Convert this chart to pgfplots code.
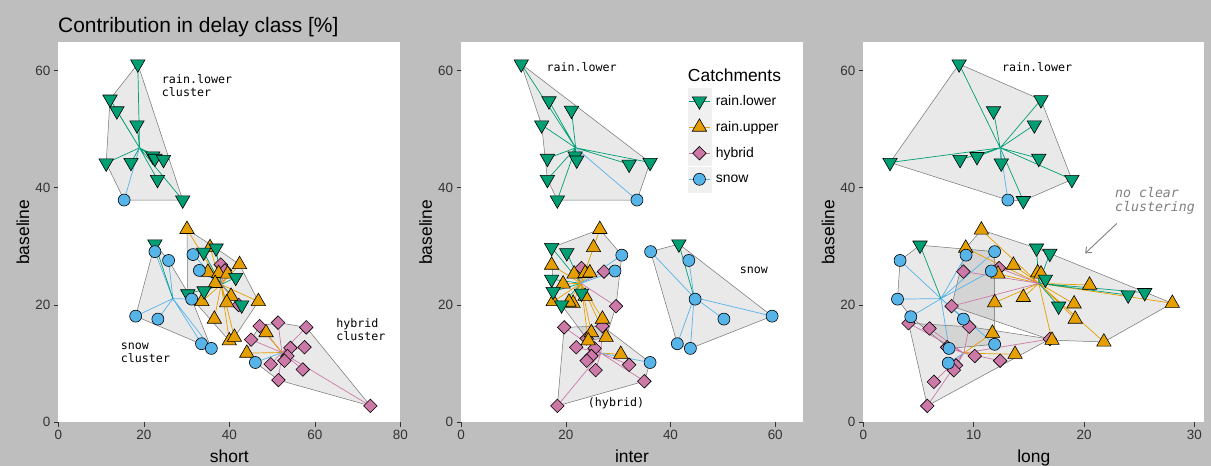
\documentclass[border=0pt]{standalone}
\usepackage{pgfplots}
\pgfplotsset{compat=1.18}
\usepackage{fontspec}
\setmainfont{Liberation Sans}
\newfontfamily\monofont{DejaVu Sans Mono}
\usetikzlibrary{arrows.meta}
\definecolor{cRL}{HTML}{009E73}
\definecolor{cRU}{HTML}{E69F00}
\definecolor{cH}{HTML}{CC79A7}
\definecolor{cS}{HTML}{56B4E9}
\definecolor{bg}{HTML}{BEBEBE}
\tikzset{ann/.style={anchor=base west, align=left, inner sep=0pt, font=\monofont\fontsize{11.7}{13}\selectfont}}
\pgfplotsset{
 panel/.style={scale only axis, height=380bp, ymin=0, ymax=64.8, ytick={0,20,40,60},
  anchor=south west,
  axis background/.style={fill=white}, axis line style={draw=none},
  tick align=outside, xtick pos=left, ytick pos=left, major tick length=4.5bp,
  major tick style={draw=black!80, line width=0.5bp},
  tick label style={font=\fontsize{13.5}{15}\selectfont, text=black!80},
  /pgf/number format/assume math mode=true,
  ylabel={baseline},
  every axis y label/.style={at={(axis description cs:-0.085,0.5)}, rotate=90, anchor=base, font=\fontsize{17.5}{20}\selectfont},
  every axis x label/.style={at={(axis description cs:0.5,0)}, anchor=base, yshift=-40bp, font=\fontsize{17.5}{20}\selectfont},
 },
 hull/.style={forget plot, no markers, draw=black!55, fill=black, fill opacity=0.085, line width=0.5bp},
 spk/.style={forget plot, no markers, line width=0.7bp},
 mRL/.style={forget plot, only marks, mark=triangle*, mark size=8.3bp, mark options={rotate=180, fill=cRL, draw=black, line width=0.6bp}},
 mRU/.style={forget plot, only marks, mark=triangle*, mark size=8.3bp, mark options={fill=cRU, draw=black, line width=0.6bp}},
 mH/.style={forget plot, only marks, mark=square*, mark size=4.8bp, mark options={rotate=45, fill=cH, draw=black, line width=0.6bp}},
 mS/.style={forget plot, only marks, mark=*, mark size=6bp, mark options={fill=cS, draw=black, line width=0.6bp}},
}
\begin{document}
\begin{tikzpicture}
\fill[bg] (0,0) rectangle (1211bp,466bp);
\node[anchor=base west, inner sep=0pt, font=\fontsize{21}{24}\selectfont] at (58bp,433bp) {Contribution in delay class [\%]};

% ---------------- Panel 1: short ----------------
\begin{axis}[panel, at={(58.3bp,43.7bp)}, width=342bp, xmin=0, xmax=80, xtick={0,20,40,60,80}, xlabel={short}]
\addplot[hull] coordinates {(18.6,61.1)(29.1,37.9)(15.4,37.9)(11.2,44.2)(12.1,55.1)} -- cycle;
\addplot[hull] coordinates {(22.6,30.4)(25.8,27.6)(31.2,21.0)(35.8,12.6)(18.1,18.1)} -- cycle;
\addplot[hull] coordinates {(30.1,32.9)(36.9,29.7)(42.4,26.9)(46.8,20.6)(41.2,14.5)(40.0,13.9)(30.3,21.9)} -- cycle;
\addplot[hull] coordinates {(47.1,16.4)(51.4,17.0)(58.0,16.2)(73.0,2.8)(51.5,7.2)(46.1,10.2)(44.1,11.8)(45.1,14.1)} -- cycle;
% spokes
\addplot[spk, cRL] coordinates {(19.0,46.8)(18.6,61.1)(19.0,46.8)(12.1,55.1)(19.0,46.8)(13.7,53.1)(19.0,46.8)(18.4,50.7)(19.0,46.8)(11.2,44.2)(19.0,46.8)(17.0,44.3)(19.0,46.8)(22.1,45.4)(19.0,46.8)(22.6,45.0)(19.0,46.8)(24.6,44.8)(19.0,46.8)(23.2,41.4)(19.0,46.8)(29.1,37.9)};
\addplot[spk, cS] coordinates {(19.0,46.8)(15.4,37.9)};
\addplot[spk, cS] coordinates {(26.8,21.1)(22.6,29.1)(26.8,21.1)(25.8,27.6)(26.8,21.1)(18.1,18.1)(26.8,21.1)(23.3,17.6)(26.8,21.1)(33.5,13.4)(26.8,21.1)(35.8,12.6)(26.8,21.1)(31.2,21.0)};
\addplot[spk, cRL] coordinates {(26.8,21.1)(22.6,30.4)};
\addplot[spk, cRU] coordinates {(38.1,23.5)(30.1,32.9)(38.1,23.5)(35.5,29.8)(38.1,23.5)(42.4,26.9)(38.1,23.5)(35.0,25.6)(38.1,23.5)(37.5,25.4)(38.1,23.5)(39.6,25.3)(38.1,23.5)(36.7,23.7)(38.1,23.5)(33.6,20.6)(38.1,23.5)(40.4,21.5)(38.1,23.5)(39.4,20.4)(38.1,23.5)(46.8,20.6)(38.1,23.5)(36.5,17.6)(38.1,23.5)(40.0,13.9)(38.1,23.5)(41.2,14.5)};
\addplot[spk, cRL] coordinates {(38.1,23.5)(34.0,29.0)(38.1,23.5)(36.9,29.7)(38.1,23.5)(41.5,24.7)(38.1,23.5)(42.9,20.0)(38.1,23.5)(30.3,21.9)(38.1,23.5)(34.1,22.4)};
\addplot[spk, cS] coordinates {(38.1,23.5)(31.5,28.6)(38.1,23.5)(33.0,25.9)};
\addplot[spk, cH] coordinates {(38.1,23.5)(38.0,26.9)(38.1,23.5)(39.0,25.9)(38.1,23.5)(42.2,20.0)};
\addplot[spk, cH] coordinates {(52.3,11.9)(47.1,16.4)(52.3,11.9)(51.4,17.0)(52.3,11.9)(58.0,16.2)(52.3,11.9)(45.1,14.1)(52.3,11.9)(54.3,12.7)(52.3,11.9)(57.6,12.8)(52.3,11.9)(53.6,11.3)(52.3,11.9)(52.9,10.5)(52.3,11.9)(49.7,9.9)(52.3,11.9)(57.2,9.0)(52.3,11.9)(51.5,7.2)(52.3,11.9)(73.0,2.8)};
\addplot[spk, cRU] coordinates {(52.3,11.9)(48.6,15.3)(52.3,11.9)(44.1,11.8)};
\addplot[spk, cS] coordinates {(52.3,11.9)(46.1,10.2)};
% points
\addplot[mH] coordinates {(38.0,26.9)(39.0,25.9)(42.2,20.0)(47.1,16.4)(51.4,17.0)(58.0,16.2)(45.1,14.1)(54.3,12.7)(57.6,12.8)(53.6,11.3)(52.9,10.5)(49.7,9.9)(57.2,9.0)(51.5,7.2)(73.0,2.8)};
\addplot[mRU] coordinates {(30.1,32.9)(35.5,29.8)(42.4,26.9)(35.0,25.6)(37.5,25.4)(39.6,25.3)(36.7,23.7)(33.6,20.6)(40.4,21.5)(39.4,20.4)(46.8,20.6)(36.5,17.6)(40.0,13.9)(41.2,14.5)(48.6,15.3)(44.1,11.8)};
\addplot[mRL] coordinates {(18.6,61.1)(12.1,55.1)(13.7,53.1)(18.4,50.7)(11.2,44.2)(17.0,44.3)(22.1,45.4)(22.6,45.0)(24.6,44.8)(23.2,41.4)(29.1,37.9)(22.6,30.4)(34.0,29.0)(36.9,29.7)(41.5,24.7)(42.9,20.0)(30.3,21.9)(34.1,22.4)};
\addplot[mS] coordinates {(15.4,37.9)(22.6,29.1)(25.8,27.6)(18.1,18.1)(23.3,17.6)(33.5,13.4)(35.8,12.6)(31.2,21.0)(31.5,28.6)(33.0,25.9)(46.1,10.2)};
\node[ann] at (axis cs:24.2,55.5) {rain.lower\\cluster};
\node[ann] at (axis cs:14.6,10.2) {snow\\cluster};
\node[ann] at (axis cs:65.0,13.9) {hybrid\\cluster};
\end{axis}

% ---------------- Panel 2: inter ----------------
\begin{axis}[panel, at={(461bp,43.7bp)}, width=342bp, xmin=0, xmax=65.3, xtick={0,20,40,60}, xlabel={inter},
 legend style={at={(axis description cs:0.663,0.879)}, anchor=north west, draw=none, fill=none, inner sep=0pt, outer sep=0pt, row sep=0.7bp, font=\fontsize{14}{16}\selectfont, nodes={inner xsep=4.7bp, inner ysep=0pt}, cells={anchor=west}},
 legend cell align=left]
\addplot[hull] coordinates {(11.5,61.1)(36.1,44.3)(33.6,37.9)(18.4,37.9)(16.5,41.4)(15.4,50.7)} -- cycle;
\addplot[hull] coordinates {(17.3,29.8)(26.5,32.9)(30.7,28.5)(29.6,19.8)(27.7,14.5)(24.3,13.9)(19.2,20.0)(17.6,20.6)} -- cycle;
\addplot[hull] coordinates {(19.7,16.2)(27.0,16.4)(36.1,10.2)(35.0,7.0)(18.4,2.8)} -- cycle;
\addplot[hull] coordinates {(36.2,29.1)(41.6,30.4)(59.4,18.1)(43.8,12.6)(41.3,13.4)} -- cycle;
% spokes
\addplot[spk, cRL] coordinates {(21.9,46.8)(11.5,61.1)(21.9,46.8)(16.8,54.8)(21.9,46.8)(21.1,53.2)(21.9,46.8)(15.4,50.7)(21.9,46.8)(16.5,45.0)(21.9,46.8)(21.8,45.4)(21.9,46.8)(22.1,44.7)(21.9,46.8)(32.1,44.0)(21.9,46.8)(36.1,44.3)(21.9,46.8)(16.5,41.4)(21.9,46.8)(18.4,37.9)};
\addplot[spk, cS] coordinates {(21.9,46.8)(33.6,37.9)};
\addplot[spk, cRL] coordinates {(22.9,23.7)(17.3,29.8)(22.9,23.7)(20.2,28.9)(22.9,23.7)(17.3,24.4)(22.9,23.7)(17.6,22.3)(22.9,23.7)(23.0,22.0)(22.9,23.7)(19.2,20.0)};
\addplot[spk, cRU] coordinates {(22.9,23.7)(26.5,32.9)(22.9,23.7)(25.3,29.8)(22.9,23.7)(17.3,26.8)(22.9,23.7)(21.6,25.3)(22.9,23.7)(23.7,25.4)(22.9,23.7)(24.6,25.5)(22.9,23.7)(19.5,23.6)(22.9,23.7)(23.7,21.5)(22.9,23.7)(17.6,20.6)(22.9,23.7)(21.4,20.3)(22.9,23.7)(20.6,20.5)(22.9,23.7)(27.0,17.6)(22.9,23.7)(24.9,15.3)(22.9,23.7)(24.3,13.9)(22.9,23.7)(27.7,14.5)};
\addplot[spk, cH] coordinates {(22.9,23.7)(23.0,26.3)(22.9,23.7)(27.3,25.7)(22.9,23.7)(29.6,19.8)};
\addplot[spk, cS] coordinates {(22.9,23.7)(30.7,28.5)(22.9,23.7)(29.4,25.8)};
\addplot[spk, cH] coordinates {(26.7,11.8)(27.0,16.4)(26.7,11.8)(19.7,16.2)(26.7,11.8)(24.0,14.3)(26.7,11.8)(22.0,12.8)(26.7,11.8)(25.5,12.6)(26.7,11.8)(24.9,11.3)(26.7,11.8)(24.0,10.5)(26.7,11.8)(32.1,9.8)(26.7,11.8)(25.7,8.9)(26.7,11.8)(35.0,7.0)(26.7,11.8)(18.4,2.8)};
\addplot[spk, cRU] coordinates {(26.7,11.8)(30.5,11.6)};
\addplot[spk, cS] coordinates {(26.7,11.8)(36.1,10.2)};
\addplot[spk, cS] coordinates {(44.5,21.3)(36.2,29.1)(44.5,21.3)(43.5,27.6)(44.5,21.3)(44.7,21.0)(44.5,21.3)(50.2,17.6)(44.5,21.3)(59.4,18.1)(44.5,21.3)(41.3,13.4)(44.5,21.3)(43.8,12.6)};
\addplot[spk, cRL] coordinates {(44.5,21.3)(41.6,30.4)};
% points
\addplot[mH] coordinates {(23.0,26.3)(27.3,25.7)(29.6,19.8)(27.0,16.4)(19.7,16.2)(24.0,14.3)(22.0,12.8)(25.5,12.6)(24.9,11.3)(24.0,10.5)(32.1,9.8)(25.7,8.9)(35.0,7.0)(18.4,2.8)};
\addplot[mRU] coordinates {(26.5,32.9)(25.3,29.8)(17.3,26.8)(21.6,25.3)(23.7,25.4)(24.6,25.5)(19.5,23.6)(23.7,21.5)(17.6,20.6)(21.4,20.3)(20.6,20.5)(27.0,17.6)(24.9,15.3)(24.3,13.9)(27.7,14.5)(30.5,11.6)};
\addplot[mRL] coordinates {(11.5,61.1)(16.8,54.8)(21.1,53.2)(15.4,50.7)(16.5,45.0)(21.8,45.4)(22.1,44.7)(32.1,44.0)(36.1,44.3)(16.5,41.4)(18.4,37.9)(17.3,29.8)(20.2,28.9)(17.3,24.4)(17.6,22.3)(23.0,22.0)(19.2,20.0)(41.6,30.4)};
\addplot[mS] coordinates {(33.6,37.9)(30.7,28.5)(29.4,25.8)(36.1,10.2)(36.2,29.1)(43.5,27.6)(44.7,21.0)(50.2,17.6)(59.4,18.1)(41.3,13.4)(43.8,12.6)};
\node[ann] at (axis cs:16.3,59.8) {rain.lower};
\node[ann] at (axis cs:53.2,25.3) {snow};
\node[ann] at (axis cs:24.2,2.7) {(hybrid)};
\node[anchor=base west, inner sep=0pt, font=\fontsize{17.5}{20}\selectfont] at (axis cs:43.3,58.1) {Catchments};
% legend
\addlegendimage{legend image code/.code={
 \fill[black!6] (0bp,-12.5bp) rectangle (23bp,12.5bp);
 \draw[cRL, line width=0.7bp] (1bp,0bp) -- (22bp,0bp);
 \draw[black, fill=cRL, line width=0.6bp] plot[mark=triangle*, mark size=8.3bp, mark options={rotate=180}] coordinates {(11.5bp,0bp)};}}
\addlegendentry{rain.lower}
\addlegendimage{legend image code/.code={
 \fill[black!6] (0bp,-12.5bp) rectangle (23bp,12.5bp);
 \draw[cRU, line width=0.7bp] (1bp,0bp) -- (22bp,0bp);
 \draw[black, fill=cRU, line width=0.6bp] plot[mark=triangle*, mark size=8.3bp] coordinates {(11.5bp,0bp)};}}
\addlegendentry{rain.upper}
\addlegendimage{legend image code/.code={
 \fill[black!6] (0bp,-12.5bp) rectangle (23bp,12.5bp);
 \draw[cH, line width=0.7bp] (1bp,0bp) -- (22bp,0bp);
 \draw[black, fill=cH, line width=0.6bp] plot[mark=square*, mark size=4.8bp, mark options={rotate=45}] coordinates {(11.5bp,0bp)};}}
\addlegendentry{hybrid}
\addlegendimage{legend image code/.code={
 \fill[black!6] (0bp,-12.5bp) rectangle (23bp,12.5bp);
 \draw[cS, line width=0.7bp] (1bp,0bp) -- (22bp,0bp);
 \draw[black, fill=cS, line width=0.6bp] plot[mark=*, mark size=6bp] coordinates {(11.5bp,0bp)};}}
\addlegendentry{snow}
\end{axis}

% ---------------- Panel 3: long ----------------
\begin{axis}[panel, at={(863.3bp,43.7bp)}, width=341bp, xmin=0, xmax=30.9, xtick={0,10,20,30}, xlabel={long}]
\addplot[hull] coordinates {(8.68,61.1)(16.1,55.0)(18.9,41.4)(14.5,37.8)(13.1,37.9)(2.42,44.3)} -- cycle;
\addplot[hull] coordinates {(5.14,30.2)(11.9,29.1)(11.9,13.3)(7.77,12.6)(4.3,18.0)(3.1,21.0)(3.33,27.6)} -- cycle;
\addplot[hull] coordinates {(10.7,32.8)(15.7,29.7)(16.9,28.8)(28.0,20.3)(21.8,13.7)(17.1,14.0)(8.0,19.8)(9.28,29.7)} -- cycle;
\addplot[hull] coordinates {(4.1,16.9)(9.6,16.3)(16.9,14.2)(5.8,2.8)} -- cycle;
% spokes
\addplot[spk, cRL] coordinates {(12.4,46.8)(8.68,61.1)(12.4,46.8)(16.1,55.0)(12.4,46.8)(11.8,53.1)(12.4,46.8)(15.5,50.7)(12.4,46.8)(2.42,44.3)(12.4,46.8)(8.77,44.8)(12.4,46.8)(10.3,45.3)(12.4,46.8)(12.5,44.2)(12.4,46.8)(15.9,45.0)(12.4,46.8)(18.9,41.4)(12.4,46.8)(14.5,37.8)};
\addplot[spk, cS] coordinates {(12.4,46.8)(13.1,37.9)};
\addplot[spk, cS] coordinates {(7.04,21.1)(3.33,27.6)(7.04,21.1)(3.1,21.0)(7.04,21.1)(4.3,18.0)(7.04,21.1)(9.07,17.6)(7.04,21.1)(9.31,28.5)(7.04,21.1)(11.9,29.1)(7.04,21.1)(11.6,25.8)(7.04,21.1)(11.9,13.3)(7.04,21.1)(7.77,12.6)};
\addplot[spk, cRL] coordinates {(7.04,21.1)(5.14,30.2)};
\addplot[spk, cRU] coordinates {(15.9,23.7)(10.7,32.8)(15.9,23.7)(9.28,29.7)(15.9,23.7)(12.2,25.3)(15.9,23.7)(13.6,26.8)(15.9,23.7)(15.8,25.5)(15.9,23.7)(16.1,25.3)(15.9,23.7)(20.5,23.4)(15.9,23.7)(28.0,20.3)(15.9,23.7)(14.5,21.3)(15.9,23.7)(11.9,20.4)(15.9,23.7)(19.1,20.2)(15.9,23.7)(19.2,17.6)(15.9,23.7)(21.8,13.7)(15.9,23.7)(17.1,14.0)};
\addplot[spk, cRL] coordinates {(15.9,23.7)(15.7,29.7)(15.9,23.7)(16.9,28.8)(15.9,23.7)(16.5,24.4)(15.9,23.7)(24.0,21.7)(15.9,23.7)(25.5,22.1)(15.9,23.7)(17.7,19.8)};
\addplot[spk, cH] coordinates {(15.9,23.7)(9.07,25.7)(15.9,23.7)(12.3,26.3)(15.9,23.7)(8.0,19.8)};
\addplot[spk, cH] coordinates {(9.1,11.8)(4.1,16.9)(9.1,11.8)(9.6,16.3)(9.1,11.8)(6.0,16.0)(9.1,11.8)(7.6,12.8)(9.1,11.8)(10.1,11.3)(9.1,11.8)(12.4,10.5)(9.1,11.8)(8.4,9.7)(9.1,11.8)(8.2,8.9)(9.1,11.8)(6.4,6.9)(9.1,11.8)(5.8,2.8)(9.1,11.8)(16.9,14.2)};
\addplot[spk, cRU] coordinates {(9.1,11.8)(11.7,15.2)(9.1,11.8)(13.75,11.6)};
\addplot[spk, cS] coordinates {(9.1,11.8)(7.7,10.1)};
% points
\addplot[mH] coordinates {(9.07,25.7)(12.3,26.3)(8.0,19.8)(4.1,16.9)(9.6,16.3)(6.0,16.0)(16.9,14.2)(7.6,12.8)(10.1,11.3)(12.4,10.5)(8.4,9.7)(8.2,8.9)(6.4,6.9)(5.8,2.8)};
\addplot[mRU] coordinates {(10.7,32.8)(9.28,29.7)(12.2,25.3)(13.6,26.8)(15.8,25.5)(16.1,25.3)(20.5,23.4)(28.0,20.3)(14.5,21.3)(11.9,20.4)(19.1,20.2)(19.2,17.6)(21.8,13.7)(11.7,15.2)(17.1,14.0)(13.75,11.6)};
\addplot[mRL] coordinates {(8.68,61.1)(16.1,55.0)(11.8,53.1)(15.5,50.7)(2.42,44.3)(8.77,44.8)(10.3,45.3)(12.5,44.2)(15.9,45.0)(18.9,41.4)(14.5,37.8)(5.14,30.2)(15.7,29.7)(16.9,28.8)(16.5,24.4)(24.0,21.7)(25.5,22.1)(17.7,19.8)};
\addplot[mS] coordinates {(13.1,37.9)(9.31,28.5)(11.9,29.1)(3.33,27.6)(11.6,25.8)(3.1,21.0)(4.3,18.0)(9.07,17.6)(7.77,12.6)(11.9,13.3)(7.7,10.1)};
\node[ann] at (axis cs:12.55,59.8) {rain.lower};
\node[anchor=base west, align=left, inner sep=0pt, font=\monofont\itshape\fontsize{13.3}{14}\selectfont, text=black!50] at (axis cs:22.8,35.9) {no clear\\clustering};
\draw[black!50, line width=0.9bp, -{Straight Barb[length=5bp,width=8bp]}] (axis cs:22.97,33.9) -- (axis cs:20.1,28.8);
\end{axis}
\pgfresetboundingbox
\path[use as bounding box] (0,0) rectangle (1211bp,466bp);
\end{tikzpicture}
\end{document}
